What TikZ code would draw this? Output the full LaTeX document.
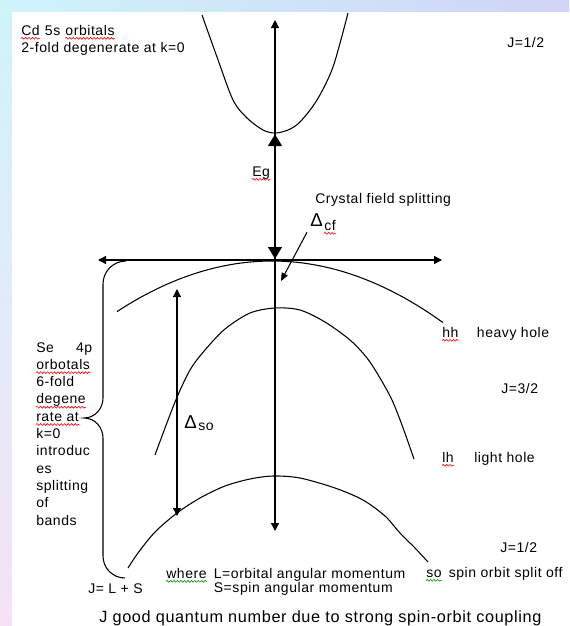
\documentclass[tikz,border=0pt]{standalone}
\usepackage{fontspec}
\setmainfont{Liberation Sans}[LetterSpace=4]
\usetikzlibrary{arrows.meta,positioning,decorations.pathmorphing}

\definecolor{slideblue}{RGB}{208,212,246}
\definecolor{slidecyan}{RGB}{206,244,250}
\definecolor{slidepink}{RGB}{246,226,246}

\begin{document}
\begin{tikzpicture}[x=0.75pt, y=-0.75pt,
every node/.style={inner sep=0pt, font=\fontsize{10.5}{13}\selectfont},
lbl/.style={anchor=base west},
band/.style={line width=0.8pt},
kaxis/.style={line width=0.9pt, >={Triangle[length=6pt,width=6pt]}, <->},
egap/.style={line width=2.2pt, >={Triangle[length=9pt,width=10pt]}, <->},
arr/.style={line width=0.8pt, -{Triangle[length=6pt,width=5pt]}},
spell/.style={red, line width=0.45pt, decorate, decoration={snake, amplitude=0.7pt, segment length=2.6pt}},
grammar/.style={spell, green!55!black}
]
% slide background
\useasboundingbox (0,0) rectangle (569,626);
\fill[slideblue!60] (0,0) rectangle (569,626);
\shade[left color=slidecyan, right color=slideblue] (0,0) rectangle (569,12);
\shade[top color=slidecyan, bottom color=slidepink] (0,0) rectangle (12,626);
\fill[white] (12,12) rectangle (569,626);

% axes
\coordinate (kl) at (98,260);
\coordinate (kr) at (442,260);
\coordinate (etop) at (275,20);
\coordinate (ebot) at (275,531);
\draw[kaxis] (kl) -- (kr);
\draw[kaxis] (ebot) -- (etop);

% bands
\draw[band] plot[smooth] coordinates {(202,15) (217,57) (233,100) (247,118) (263,130) (275,133) (288,130) (300,122) (317,100) (333,67) (348,13)};
\draw[band] plot[domain=117:443, samples=50] (\x, {261+0.0021*(\x-272)*(\x-272)});
\draw[band] plot[smooth] coordinates {(155,455) (175,402) (190,370) (205,350) (225,329) (250,313) (275,308) (300,310) (325,322) (350,340) (367,358) (380,378) (392,400) (402,425) (414,459)};
\draw[band] plot[smooth] coordinates {(128,568) (138,553) (155,532) (177,513) (200,498) (225,486) (250,479) (273,476) (300,478) (335,488) (363,500) (385,516) (400,533) (415,548) (428,562)};

% gap and splittings
\coordinate (cbm) at (275,134);
\coordinate (vbm) at (275,259);
\draw[egap] (cbm) -- (vbm);
\coordinate (sotop) at (177,289);
\coordinate (sobot) at (177,516);
\draw[kaxis] (sotop) -- (sobot);

% brace
\coordinate (brtip) at (84,418);
\draw[band] (126,261) to[out=180,in=90] (103,284) -- (103,398) to[out=-90,in=0] (brtip)
  to[out=0,in=90] (103,438) -- (103,556) to[out=-90,in=180] (125,578);

% labels
\node[lbl] (cd) at (21,35) {Cd};
\node[base right=3.5pt of cd] (fives) {5s};
\node[base right=3.5pt of fives] (orb) {orbitals};
\node[lbl] (deg) at (21,52) {2-fold degenerate at k=0};
\node[lbl] (jtop) at (507,47) {J=1/2};
\node[lbl] (eg) at (252,176) {Eg};
\node[lbl] (cfs) at (315,203) {Crystal field splitting};
\node[lbl, font=\fontsize{14}{14}\selectfont] (dcf) at (310,226) {Δ};
\node[lbl] (cf) at (324,230) {cf};
\coordinate (cfend) at (281,281);
\draw[arr] ([shift={(-3,6)}]dcf.south west) -- (cfend);
\node[lbl, font=\fontsize{14}{14}\selectfont] (dso) at (184,428) {Δ};
\node[lbl] (so) at (198,430) {so};

\node[lbl] (hh) at (442,337) {hh};
\node[base right=13.5pt of hh] (hhtxt) {heavy hole};
\node[lbl] (j32) at (501,393) {J=3/2};
\node[lbl] (lh) at (442,462) {lh};
\node[base right=15pt of lh] (lhtxt) {light hole};
\node[lbl] (jso) at (500,552) {J=1/2};

\foreach \t [count=\i] in {{\makebox[42pt][s]{Se 4p}},orbotals,6-fold,degene,rate at,k=0,introduc,es,splitting,of,bands}
  \node[lbl] (se\i) at (36,{352+17.3*(\i-1)}) {\t};

\node[lbl] (jls) at (88,593) {J= L + S};
\node[lbl] (where) at (166,578) {where};
\node[base right=5pt of where] (lmom) {L=orbital angular momentum};
\node[lbl] (smom) at ([yshift=-11pt]lmom.base west) {S=spin angular momentum};
\node[lbl] (soab) at (426,577) {so};
\node[base right=5pt of soab] (sotxt) {spin orbit split off};
\node[anchor=base west, font=\fontsize{12.2}{15}\selectfont] (good) at (99,622) {J good quantum number due to strong spin-orbit coupling};

% spell-check marks
\foreach \w in {cd,orb,eg,cf,hh,lh,se2,se4,se5}
  \draw[spell] ([yshift=-2.5pt]\w.base west) -- ([yshift=-2.5pt]\w.base east);
\foreach \w in {where,soab}
  \draw[grammar] ([yshift=-2.5pt]\w.base west) -- ([yshift=-2.5pt]\w.base east);
\end{tikzpicture}
\end{document}
